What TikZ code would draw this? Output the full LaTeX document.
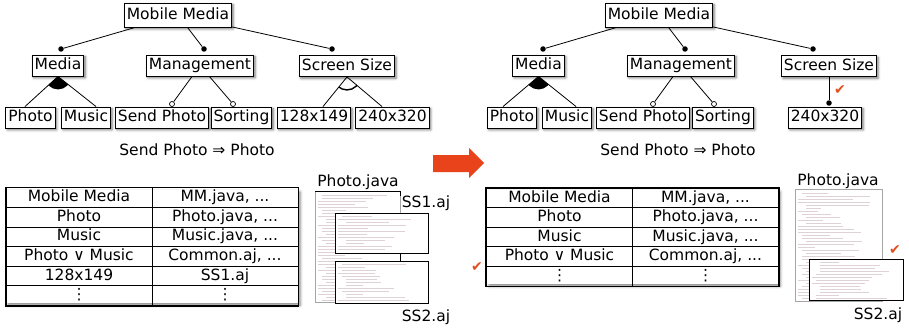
\documentclass[tikz,border=0pt]{standalone}
\usepackage{fontspec}
\setmainfont{DejaVu Sans}
\usetikzlibrary{calc,matrix,shadows.blur}

\definecolor{arrowred}{RGB}{232,67,26}
\definecolor{checkred}{RGB}{226,78,30}
\definecolor{codeink}{RGB}{222,210,215}

\newcommand{\fsize}{\fontsize{15.5}{18}\selectfont}
% faint source-code lines on a file sheet: x, y, width, number of lines
\newcommand{\codelines}[4]{%
  \foreach \i in {1,...,#4} {
    \pgfmathsetmacro{\ind}{4*int(3*rnd)}
    \pgfmathsetmacro{\len}{(#3-\ind-6)*(0.2+0.7*rnd)}
    \draw[codeln] (#1+3+\ind,#2+3*\i) -- ++(\len,0);
  }}

\begin{document}
\begin{tikzpicture}[
    x=1pt, y=-1pt,
    every node/.style={font=\fsize},
    feat/.style={draw, fill=white, line width=0.9pt, inner xsep=2.5pt, inner ysep=0pt,
                 minimum height=21pt, text height=11.5pt, text depth=3pt,
                 blur shadow={shadow xshift=1.5pt, shadow yshift=-1.8pt,
                              shadow blur radius=2.5pt, shadow opacity=55}},
    root/.style={feat, minimum height=24pt},
    mand/.style={circle, fill=black, inner sep=0pt, minimum size=5.5pt},
    opt/.style={circle, draw, fill=white, line width=0.7pt, inner sep=0pt, minimum size=5pt},
    edge/.style={line width=0.8pt},
    cell/.style={draw, line width=0.8pt, minimum width=146pt, minimum height=19.6pt,
                 inner sep=0pt, text height=11.5pt, text depth=3pt},
    tbl/.style={matrix of nodes, nodes={cell}, inner sep=0pt,
                column sep=-0.8pt, row sep=-0.8pt},
    page/.style={draw=gray!70, fill=white, line width=0.6pt},
    frag/.style={draw, line width=0.8pt},
    codeln/.style={draw=codeink, line width=0.5pt},
    check/.style={text=checkred, font=\fontsize{14}{14}\selectfont},
  ]
  \useasboundingbox (0,0) rectangle (909,329);
  \pgfmathsetseed{11}

  % ---- feature model, before
  \node[root] (mmL) at (178,15) {Mobile Media};
  \node[feat] (mediaL) at (58,65.5) {Media};
  \node[feat] (mgmtL) at (200,65.5) {Management};
  \node[feat] (sizeL) at (347,66) {Screen Size};
  \node[feat] (photoL) at (30.5,117.5) {Photo};
  \node[feat] (musicL) at (86,117.5) {Music};
  \node[feat] (sendL) at (162,117.5) {Send Photo};
  \node[feat] (sortL) at (241.5,117.5) {Sorting};
  \node[feat] (s128L) at (314,117.5) {128x149};
  \node[feat] (s240L) at (392.5,117.5) {240x320};
  \node[mand] (dMediaL) at (61,49) {};
  \node[mand] (dMgmtL) at (204,49) {};
  \node[mand] (dSizeL) at (332,49) {};
  \node[opt] (oSendL) at (172,104) {};
  \node[opt] (oSortL) at (233,104) {};
  \draw[edge] (mmL) -- (dMediaL);
  \draw[edge] (mmL) -- (dMgmtL);
  \draw[edge] (mmL) -- (dSizeL);
  \draw[edge] (mgmtL) -- (oSendL);
  \draw[edge] (mgmtL) -- (oSortL);
  % or-group
  \coordinate (orL1) at ([xshift=-5.5pt]photoL.north);
  \coordinate (orL2) at ([xshift=10pt]musicL.north);
  \draw[edge] (mediaL.south) -- (orL1);
  \draw[edge] (mediaL.south) -- (orL2);
  \begin{scope}
    \clip (mediaL.south) -- (orL1) -- (orL2) -- cycle;
    \fill (mediaL.south) circle (13pt);
  \end{scope}
  % alternative group
  \coordinate (altL1) at ([xshift=9pt]s128L.north);
  \coordinate (altL2) at ([xshift=-10.5pt]s240L.north);
  \draw[edge] (sizeL.south) -- (altL1);
  \draw[edge] (sizeL.south) -- (altL2);
  \begin{scope}
    \clip (sizeL.south) -- (altL1) -- (altL2) -- cycle;
    \draw[line width=1.4pt] (sizeL.south) circle (13pt);
  \end{scope}
  \node (ctL) at (197,150) {Send Photo ⇒ Photo};

  % ---- feature model, after
  \node[root] (mmR) at (659,15) {Mobile Media};
  \node[feat] (mediaR) at (538.5,65.5) {Media};
  \node[feat] (mgmtR) at (681,65.5) {Management};
  \node[feat] (sizeR) at (829,66) {Screen Size};
  \node[feat] (photoR) at (512,117.5) {Photo};
  \node[feat] (musicR) at (567,117.5) {Music};
  \node[feat] (sendR) at (643,117.5) {Send Photo};
  \node[feat] (sortR) at (723,117.5) {Sorting};
  \node[feat] (s240R) at (825,117.5) {240x320};
  \node[mand] (dMediaR) at (543,49) {};
  \node[mand] (dMgmtR) at (685,49) {};
  \node[mand] (dSizeR) at (813,49) {};
  \node[mand] (dS240R) at (829,103) {};
  \node[opt] (oSendR) at (653,104) {};
  \node[opt] (oSortR) at (714,104) {};
  \draw[edge] (mmR) -- (dMediaR);
  \draw[edge] (mmR) -- (dMgmtR);
  \draw[edge] (mmR) -- (dSizeR);
  \draw[edge] (mgmtR) -- (oSendR);
  \draw[edge] (mgmtR) -- (oSortR);
  \draw[edge] (sizeR) -- (dS240R);
  \coordinate (orR1) at ([xshift=-9pt]photoR.north);
  \coordinate (orR2) at ([xshift=9pt]musicR.north);
  \draw[edge] (mediaR.south) -- (orR1);
  \draw[edge] (mediaR.south) -- (orR2);
  \begin{scope}
    \clip (mediaR.south) -- (orR1) -- (orR2) -- cycle;
    \fill (mediaR.south) circle (13pt);
  \end{scope}
  \node[check] (ckSize) at (840,90) {✔};
  \node (ctR) at (678,150) {Send Photo ⇒ Photo};

  % ---- transformation arrow
  \fill[arrowred] (433,155) -- (469,155) -- (469,148) -- (484,163)
        -- (469,178) -- (469,172) -- (433,172) -- cycle;

  % ---- feature-to-code tables
  \fill[white, blur shadow={shadow xshift=2pt, shadow yshift=-2pt,
        shadow blur radius=3pt, shadow opacity=50}] (6,190) rectangle (298,303);
  \matrix (tblL) [tbl] at (152,246.5) {
    Mobile Media & MM.java, ... \\
    Photo & Photo.java, ... \\
    Music & Music.java, ... \\
    Photo ∨ Music & Common.aj, ... \\
    128x149 & SS1.aj \\
    ⋮ & ⋮ \\
  };
  \draw[line width=1.2pt] (tblL.north west) rectangle (tblL.south east);

  \fill[white, blur shadow={shadow xshift=2pt, shadow yshift=-2pt,
        shadow blur radius=3pt, shadow opacity=50}] (487,190) rectangle (778,284);
  \matrix (tblR) [tbl] at (632.5,237) {
    Mobile Media & MM.java, ... \\
    Photo & Photo.java, ... \\
    Music & Music.java, ... \\
    Photo ∨ Music & Common.aj, ... \\
    ⋮ & ⋮ \\
  };
  \draw[line width=1.2pt] (tblR.north west) rectangle (tblR.south east);
  \node[check] (ckRow) at (477,267) {✔};

  % ---- source file with fragments, before
  \draw[page] (315,191) rectangle (400,302);
  \codelines{315}{192}{85}{36}
  \draw[frag] (315,191) -- (400,191) -- (400,196);
  \draw[frag] (400,253) -- (400,261);
  \draw[frag, fill=white] (335,213) rectangle (428,253);
  \codelines{335}{213}{93}{12}
  \draw[frag, fill=white] (335,261) rectangle (428,303);
  \codelines{335}{261}{93}{13}
  \node (fileL) at (358,182) {Photo.java};
  \node (ss1L) at (426,203) {SS1.aj};
  \node (ss2L) at (426,317) {SS2.aj};

  % ---- source file with fragments, after
  \draw[page] (795,189) rectangle (882,301);
  \codelines{795}{190}{87}{36}
  \draw[frag, fill=white] (809,259) rectangle (903,300);
  \codelines{809}{259}{94}{13}
  \node (fileR) at (838,181) {Photo.java};
  \node (ss2R) at (878,315) {SS2.aj};
  \node[check] (ckFile) at (895,250) {✔};
\end{tikzpicture}
\end{document}
